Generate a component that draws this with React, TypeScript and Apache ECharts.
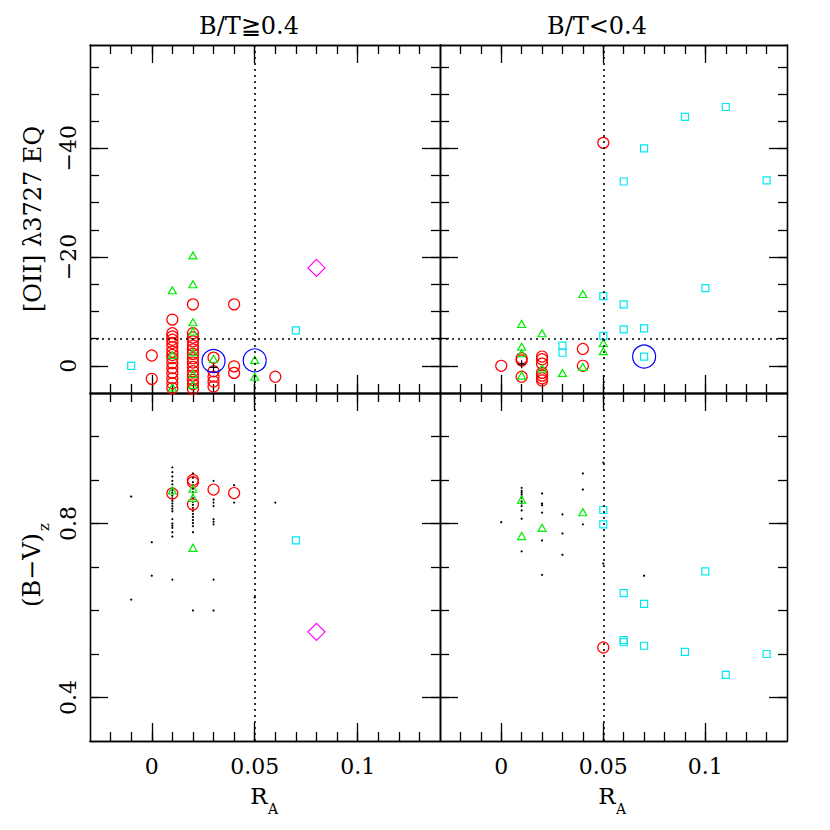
import React, { useEffect, useRef } from "react";
import * as echarts from "echarts";

// ---------- axis ranges & ticks ----------
const X_MIN = -0.03;
const X_MAX = 0.14;
const EQ_MIN = -59;
const EQ_MAX = 5;
const BV_MIN = 0.3;
const BV_MAX = 1.1;
const X_MAJOR = [0, 0.05, 0.1];
const X_MINOR = [-0.02, -0.01, 0, 0.01, 0.02, 0.03, 0.04, 0.05, 0.06, 0.07, 0.08, 0.09, 0.1, 0.11, 0.12, 0.13];
const EQ_MAJOR = [-40, -20, 0];
const EQ_MINOR = [-55, -50, -45, -40, -35, -30, -25, -20, -15, -10, -5, 0];
const BV_MAJOR = [0.4, 0.8];
const BV_MINOR = [0.4, 0.5, 0.6, 0.7, 0.8, 0.9, 1.0];
const EQ_CUT = -5;
const RA_CUT = 0.05;

const PANEL_TITLES = ["B/T\u22670.4", "B/T<0.4"];
const Y_TITLE_TOP = "[OII] \u03bb3727 EQ";
const Y_TITLE_BOTTOM = "(B\u2212V)";
const Y_TITLE_BOTTOM_SUB = "z";
const X_TITLE = "R";
const X_TITLE_SUB = "A";

// ---------- data: top-left (B/T >= 0.4), [R_A, EQ] ----------
const TL_RED = [
  [0, -1.9], [0, 2.4],
  [0.01, -8.5], [0.01, -6], [0.01, -5.4], [0.01, -4.8], [0.01, -4.2], [0.01, -3.4], [0.01, -2.6], [0.01, -2],
  [0.01, -1.4], [0.01, -0.5], [0.01, 0.4], [0.01, 1.3], [0.01, 2.3], [0.01, 3.2], [0.01, 4.1],
  [0.02, -11.3], [0.02, -6], [0.02, -5.2], [0.02, -4.5], [0.02, -3.7], [0.02, -3], [0.02, -2.2], [0.02, -1.4],
  [0.02, -0.6], [0.02, 0.2], [0.02, 1], [0.02, 1.8], [0.02, 2.6], [0.02, 3.4], [0.02, 4.2],
  [0.03, -1.5], [0.03, 1.0], [0.03, 2.0], [0.03, 2.9], [0.03, 3.8],
  [0.04, -11.3], [0.04, 0.1], [0.04, 1.3],
  [0.06, 2.0],
];
const TL_GREEN = [
  [0.01, -13.9], [0.01, -2.0], [0.01, 4.0],
  [0.02, -20.3], [0.02, -15], [0.02, -8], [0.02, -6.3], [0.02, -2.5], [0.02, 1.5], [0.02, 3.5],
  [0.03, -1.3], [0.05, -1.1], [0.05, 2.0],
];
const TL_CYAN = [[-0.01, 0], [0.07, -6.5]];
const TL_MAGENTA = [[0.08, -18]];
const TL_BLUE = [[0.03, -0.9], [0.05, -1.0]];
const TL_PLUS = [[0.03, 0.3]];

// ---------- data: bottom-left (B/T >= 0.4), [R_A, (B-V)z] ----------
const BL_DOTS = [
  [-0.01, 0.862], [-0.01, 0.625], [0, 0.757], [0, 0.68],
  [0.01, 0.929], [0.01, 0.918], [0.01, 0.908], [0.01, 0.898], [0.01, 0.89], [0.01, 0.882], [0.01, 0.876],
  [0.01, 0.87], [0.01, 0.864], [0.01, 0.858], [0.01, 0.852], [0.01, 0.846], [0.01, 0.84], [0.01, 0.834],
  [0.01, 0.828], [0.01, 0.81], [0.01, 0.8], [0.01, 0.795], [0.01, 0.79], [0.01, 0.78], [0.01, 0.77], [0.01, 0.671],
  [0.02, 0.915], [0.02, 0.905], [0.02, 0.895], [0.02, 0.888], [0.02, 0.88], [0.02, 0.872], [0.02, 0.865],
  [0.02, 0.858], [0.02, 0.85], [0.02, 0.843], [0.02, 0.836], [0.02, 0.829], [0.02, 0.822], [0.02, 0.815],
  [0.02, 0.808], [0.02, 0.801], [0.02, 0.794], [0.02, 0.78], [0.02, 0.6],
  [0.03, 0.898], [0.03, 0.855], [0.03, 0.848], [0.03, 0.84], [0.03, 0.81], [0.03, 0.804], [0.03, 0.798],
  [0.03, 0.671], [0.03, 0.6],
  [0.04, 0.888], [0.04, 0.848],
  [0.05, 0.63], [0.06, 0.848],
];
const BL_RED = [[0.01, 0.869], [0.02, 0.9], [0.02, 0.895], [0.02, 0.844], [0.03, 0.878], [0.04, 0.87]];
const BL_GREEN = [[0.01, 0.876], [0.02, 0.88], [0.02, 0.859], [0.02, 0.744]];
const BL_CYAN = [[0.07, 0.761]];
const BL_MAGENTA = [[0.08, 0.551]];

// ---------- data: top-right (B/T < 0.4), [R_A, EQ] ----------
const TR_RED = [
  [0, 0], [0.01, -1.4], [0.01, -1.0], [0.01, 2.0],
  [0.02, -1.7], [0.02, -1.2], [0.02, -0.4], [0.02, 1.3], [0.02, 1.8], [0.02, 2.3], [0.02, 2.7],
  [0.04, -3.1], [0.04, 0], [0.05, -41],
];
const TR_GREEN = [
  [0.01, -7.7], [0.01, -3.5], [0.01, -2.3], [0.01, 1.8], [0.02, -6], [0.02, 0.5], [0.03, 1.3],
  [0.04, -13.2], [0.04, 0.2], [0.05, -4.2], [0.05, -2.7],
];
const TR_CYAN = [
  [0.03, -3.7], [0.03, -2.4], [0.05, -12.8], [0.05, -5.5], [0.06, -11.3], [0.06, -6.7], [0.06, -33.9],
  [0.07, -6.9], [0.07, -1.7], [0.07, -40], [0.09, -45.8], [0.1, -14.3], [0.11, -47.6], [0.13, -34.1],
];
const TR_BLUE = [[0.07, -1.7]];
const TR_PLUS = [[0.01, -0.3]];

// ---------- data: bottom-right (B/T < 0.4), [R_A, (B-V)z] ----------
const BR_DOTS = [
  [0, 0.803],
  [0.01, 0.882], [0.01, 0.875], [0.01, 0.871], [0.01, 0.867], [0.01, 0.863], [0.01, 0.859], [0.01, 0.851],
  [0.01, 0.846], [0.01, 0.84], [0.01, 0.83], [0.01, 0.811], [0.01, 0.736],
  [0.02, 0.869], [0.02, 0.846], [0.02, 0.842], [0.02, 0.825], [0.02, 0.761], [0.02, 0.682],
  [0.03, 0.821], [0.03, 0.777], [0.03, 0.728],
  [0.04, 0.915], [0.04, 0.878], [0.04, 0.798],
  [0.05, 0.94], [0.05, 0.708], [0.07, 0.68],
];
const BR_GREEN = [[0.01, 0.855], [0.01, 0.771], [0.02, 0.79], [0.04, 0.826]];
const BR_CYAN = [
  [0.05, 0.831], [0.05, 0.798], [0.06, 0.64], [0.06, 0.532], [0.06, 0.527], [0.07, 0.615], [0.07, 0.519],
  [0.09, 0.505], [0.1, 0.69], [0.11, 0.452], [0.13, 0.5],
];
const BR_RED = [[0.05, 0.515]];

// ---------- styling ----------
const FONT = '"DejaVu Serif", serif';
const BLACK = "#000000";
const GRIDS = [
  { left: 90, top: 45, width: 350, height: 348 },
  { left: 440, top: 45, width: 347, height: 348 },
  { left: 90, top: 393, width: 350, height: 348 },
  { left: 440, top: 393, width: 347, height: 348 },
];

const lineStyle = { color: BLACK, width: 1.3 };
const labelStyle = { fontFamily: FONT, fontSize: 22, color: BLACK };

function xAxesFor(g: number, showLabels: boolean) {
  const base = {
    type: "value",
    gridIndex: g,
    min: X_MIN,
    max: X_MAX,
    splitLine: { show: false },
    axisLine: { show: true, onZero: false, lineStyle },
  };
  const major = {
    axisTick: { show: true, inside: true, length: 18, customValues: X_MAJOR, lineStyle },
  };
  const minor = {
    axisTick: { show: true, inside: true, length: 9, customValues: X_MINOR, lineStyle },
    axisLabel: { show: false },
  };
  return [
    {
      ...base,
      ...major,
      position: "bottom",
      axisLabel: { show: showLabels, customValues: X_MAJOR, margin: 14, ...labelStyle },
    },
    { ...base, ...minor, position: "bottom" },
    { ...base, ...major, position: "top", axisLabel: { show: false } },
    { ...base, ...minor, position: "top" },
  ];
}

function yAxesFor(g: number, top: boolean, showLabels: boolean) {
  const majorVals = top ? EQ_MAJOR : BV_MAJOR;
  const minorVals = top ? EQ_MINOR : BV_MINOR;
  const base = {
    type: "value",
    gridIndex: g,
    min: top ? EQ_MIN : BV_MIN,
    max: top ? EQ_MAX : BV_MAX,
    inverse: top,
    splitLine: { show: false },
    axisLine: { show: true, onZero: false, lineStyle },
  };
  const major = {
    axisTick: { show: true, inside: true, length: 18, customValues: majorVals, lineStyle },
  };
  const minor = {
    axisTick: { show: true, inside: true, length: 9, customValues: minorVals, lineStyle },
    axisLabel: { show: false },
  };
  return [
    {
      ...base,
      ...major,
      position: "left",
      axisLabel: {
        show: showLabels,
        customValues: majorVals,
        rotate: 90,
        margin: 11,
        ...labelStyle,
        formatter: (v: number) => (v < 0 ? "\u2212" + String(Math.abs(v)) : String(v)),
      },
    },
    { ...base, ...minor, position: "left" },
    { ...base, ...major, position: "right", axisLabel: { show: false } },
    { ...base, ...minor, position: "right" },
  ];
}

function sc(g: number, data: number[][], kind: string) {
  const common = {
    type: "scatter",
    xAxisIndex: g * 4,
    yAxisIndex: g * 4,
    data,
    silent: true,
    animation: false,
  };
  const open = (c: string, w = 1.2) => ({ color: "rgba(0,0,0,0)", borderColor: c, borderWidth: w, opacity: 1 });
  switch (kind) {
    case "red":
      return { ...common, symbol: "circle", symbolSize: 11, itemStyle: open("#ff0000"), z: 3 };
    case "green":
      return { ...common, symbol: "triangle", symbolSize: [8, 7], itemStyle: open("#00ee00"), z: 4 };
    case "cyan":
      return { ...common, symbol: "rect", symbolSize: 7, itemStyle: open("#00e8f0"), z: 4 };
    case "magenta":
      return { ...common, symbol: "diamond", symbolSize: 17, itemStyle: open("#ff00ff"), z: 4 };
    case "blue":
      return { ...common, symbol: "circle", symbolSize: 23, itemStyle: open("#0000ff"), z: 5 };
    case "plus":
      return {
        ...common,
        symbol: "path://M0,5L10,5M5,0L5,10",
        symbolSize: 8,
        itemStyle: { color: "none", borderColor: BLACK, borderWidth: 1.2, opacity: 1 },
        z: 6,
      };
    default:
      return {
        ...common,
        symbol: "circle",
        symbolSize: 2.2,
        itemStyle: { color: BLACK, borderWidth: 0, opacity: 1 },
        z: 2,
      };
  }
}

function guides(g: number, top: boolean) {
  const lines: any[] = [{ xAxis: RA_CUT }];
  if (top) lines.push({ yAxis: EQ_CUT });
  return {
    type: "scatter",
    xAxisIndex: g * 4,
    yAxisIndex: g * 4,
    data: [],
    silent: true,
    markLine: {
      silent: true,
      symbol: ["none", "none"],
      label: { show: false },
      lineStyle: { color: BLACK, type: [2, 4], width: 1.6 },
      emphasis: { disabled: true },
      animation: false,
      data: lines,
    },
    z: 1,
  };
}

export default function App() {
  const ref = useRef<HTMLDivElement>(null);
  useEffect(() => {
    if (!ref.current) return;
    const chart = echarts.init(ref.current, null, { renderer: "svg" });
    const titleFont = `24px ${FONT}`;
    const option: any = {
      animation: false,
      backgroundColor: "#ffffff",
      textStyle: { fontFamily: FONT },
      grid: GRIDS.map((r) => ({ ...r, containLabel: false })),
      xAxis: [...xAxesFor(0, false), ...xAxesFor(1, false), ...xAxesFor(2, true), ...xAxesFor(3, true)],
      yAxis: [
        ...yAxesFor(0, true, true),
        ...yAxesFor(1, true, false),
        ...yAxesFor(2, false, true),
        ...yAxesFor(3, false, false),
      ],
      series: [
        guides(0, true),
        guides(1, true),
        guides(2, false),
        guides(3, false),
        sc(0, TL_RED, "red"),
        sc(0, TL_GREEN, "green"),
        sc(0, TL_CYAN, "cyan"),
        sc(0, TL_MAGENTA, "magenta"),
        sc(0, TL_BLUE, "blue"),
        sc(0, TL_PLUS, "plus"),
        sc(1, TR_RED, "red"),
        sc(1, TR_GREEN, "green"),
        sc(1, TR_CYAN, "cyan"),
        sc(1, TR_BLUE, "blue"),
        sc(1, TR_PLUS, "plus"),
        sc(2, BL_DOTS, "dot"),
        sc(2, BL_RED, "red"),
        sc(2, BL_GREEN, "green"),
        sc(2, BL_CYAN, "cyan"),
        sc(2, BL_MAGENTA, "magenta"),
        sc(3, BR_DOTS, "dot"),
        sc(3, BR_RED, "red"),
        sc(3, BR_GREEN, "green"),
        sc(3, BR_CYAN, "cyan"),
      ],
      graphic: [
        {
          type: "text",
          x: 249,
          y: 26,
          silent: true,
          style: { text: PANEL_TITLES[0], font: titleFont, fill: BLACK, align: "center", verticalAlign: "middle" },
        },
        {
          type: "text",
          x: 597,
          y: 26,
          silent: true,
          style: { text: PANEL_TITLES[1], font: titleFont, fill: BLACK, align: "center", verticalAlign: "middle" },
        },
        {
          type: "text",
          x: 33,
          y: 219,
          rotation: Math.PI / 2,
          silent: true,
          style: { text: Y_TITLE_TOP, font: titleFont, fill: BLACK, align: "center", verticalAlign: "middle" },
        },
        {
          type: "group",
          x: 32,
          y: 570,
          rotation: Math.PI / 2,
          silent: true,
          children: [
            {
              type: "text",
              x: 0,
              y: 0,
              style: { text: Y_TITLE_BOTTOM, font: titleFont, fill: BLACK, align: "center", verticalAlign: "middle" },
            },
            {
              type: "text",
              x: 39,
              y: 12,
              style: { text: Y_TITLE_BOTTOM_SUB, font: `15px ${FONT}`, fill: BLACK, align: "left", verticalAlign: "middle" },
            },
          ],
        },
        ...[0, 348].map((dx) => ({
          type: "group",
          x: 259 + dx,
          y: 796,
          silent: true,
          children: [
            {
              type: "text",
              x: 0,
              y: 0,
              style: { text: X_TITLE, font: `23px ${FONT}`, fill: BLACK, align: "center", verticalAlign: "middle" },
            },
            {
              type: "text",
              x: 9,
              y: 13,
              style: { text: X_TITLE_SUB, font: `14px ${FONT}`, fill: BLACK, align: "left", verticalAlign: "middle" },
            },
          ],
        })),
      ],
    };
    chart.setOption(option);
    return () => chart.dispose();
  }, []);
  return (
    <div
      ref={ref}
      style={{ position: "fixed", left: 0, top: 0, width: 830, height: 830, background: "#ffffff" }}
    />
  );
}
